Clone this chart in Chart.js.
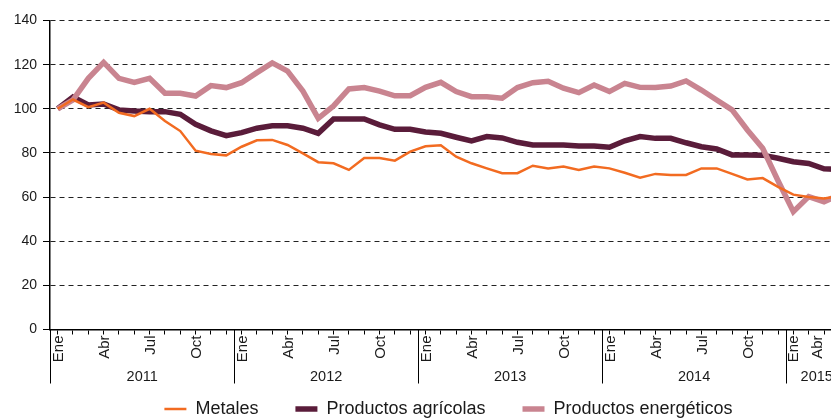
<!DOCTYPE html>
<html>
<head>
<meta charset="utf-8">
<script src="https://cdn.jsdelivr.net/npm/chart.js@4.4.1/dist/chart.umd.min.js"></script>
<style>
  html, body { margin: 0; padding: 0; overflow: hidden; background: #fff; }
  canvas { display: block; }
</style>
</head>
<body>
<canvas id="chart" width="900" height="428"></canvas>
<script>
// Indices de precios de materias primas (Ene 2011 = 100)
const years = ['2011', '2012', '2013', '2014', '2015'];
const monthNames = ['Ene', 'Feb', 'Mar', 'Abr', 'May', 'Jun', 'Jul', 'Ago', 'Sep', 'Oct', 'Nov', 'Dic'];
const shownMonths = ['Ene', 'Abr', 'Jul', 'Oct'];

const metales = [
    100, 104.2, 100.7, 102.8, 98.2, 96.7, 100, 94.5, 89.9, 81, 79.5, 78.9,
    82.8, 85.7, 85.9, 83.6, 79.8, 75.8, 75.3, 72.3, 77.7, 77.7, 76.5, 80.6,
    83, 83.5, 78.3, 75.3, 73, 70.8, 70.8, 74.2, 73, 73.8, 72.3, 73.8,
    73, 71, 68.8, 70.5, 70, 70, 73, 73, 70.5, 68, 68.6, 64.6,
    61.1, 60, 59.4, 60.5
];
const agricolas = [
    100, 105.3, 101.7, 102.2, 99.5, 99, 98.7, 98.7, 97.5, 93, 90, 87.8,
    89.2, 91.2, 92.3, 92.3, 91.2, 88.9, 95.4, 95.4, 95.4, 92.7, 90.7, 90.7,
    89.5, 88.9, 87.1, 85.4, 87.4, 86.8, 84.8, 83.6, 83.6, 83.6, 83.1, 83.1,
    82.6, 85.5, 87.4, 86.6, 86.6, 84.6, 82.8, 81.8, 79.1, 79.1, 79, 77.6,
    76, 75.2, 72.8, 72.5
];
const energeticos = [
    100, 104, 113.8, 121, 113.8, 112, 113.8, 107, 107, 105.8, 110.5, 109.6,
    111.8, 116.4, 120.8, 117.1, 108, 95.7, 101.3, 109, 109.6, 108, 105.9, 105.9,
    109.7, 112, 107.8, 105.5, 105.5, 104.8, 109.6, 111.8, 112.5, 109.3, 107.3, 110.8,
    107.8, 111.5, 109.7, 109.6, 110.3, 112.6, 108.5, 104, 99.5, 90.4, 82.1, 67.4,
    53.4, 60.2, 57.9, 61
];

const labels = years.flatMap(y => monthNames.map(m => m + ' ' + y)).slice(0, metales.length);

const FONT = '"Liberation Sans", Arial, sans-serif';

// draws the two-level category axis: month names, year separators and years
const yearAxis = {
    id: 'yearAxis',
    afterDraw: function (chart) {
        const ctx = chart.ctx;
        const x = chart.scales.x;
        const bottom = chart.chartArea.bottom;
        const half = (x.getPixelForValue(1) - x.getPixelForValue(0)) / 2;
        const last = labels.length - 1;

        ctx.save();
        ctx.strokeStyle = '#000';
        ctx.lineWidth = 1;
        ctx.fillStyle = '#1a1a1a';

        ctx.font = '14.5px ' + FONT;
        years.forEach(function (yr, k) {
            const first = k * 12;
            if (first > last) return;
            const start = Math.round(x.getPixelForValue(first) - half) + 0.5;
            const end = x.getPixelForValue(Math.min(first + 11, last)) + half;
            ctx.beginPath();
            ctx.moveTo(start, bottom);
            ctx.lineTo(start, bottom + 54);
            ctx.stroke();
            ctx.textAlign = 'center';
            ctx.textBaseline = 'middle';
            ctx.fillText(yr, (start + end) / 2, bottom + 47);
        });

        ctx.font = '15px ' + FONT;
        labels.forEach(function (lab, i) {
            const m = lab.split(' ')[0];
            if (shownMonths.indexOf(m) < 0) return;
            // keep the last month name inside the visible picture
            const px = Math.min(x.getPixelForValue(i) + 1, 818);
            ctx.save();
            ctx.translate(px, bottom + 6);
            ctx.rotate(-Math.PI / 2);
            ctx.textAlign = 'right';
            ctx.textBaseline = 'middle';
            ctx.fillText(m, 0, 0);
            ctx.restore();
        });
        ctx.restore();
    }
};

new Chart(document.getElementById('chart').getContext('2d'), {
    type: 'line',
    data: {
        labels: labels,
        datasets: [
            { label: 'Metales', data: metales, borderColor: '#f26b21', backgroundColor: '#f26b21', borderWidth: 2.5, order: 0 },
            { label: 'Productos agrícolas', data: agricolas, borderColor: '#5a1c3a', backgroundColor: '#5a1c3a', borderWidth: 5.5, order: 2 },
            { label: 'Productos energéticos', data: energeticos, borderColor: '#c98490', backgroundColor: '#c98490', borderWidth: 5.5, order: 1 }
        ]
    },
    options: {
        responsive: false,
        animation: false,
        devicePixelRatio: 1,
        layout: { padding: { top: 20.5, right: 53, left: 0, bottom: 0 } },
        elements: {
            point: { radius: 0 },
            line: { tension: 0, borderJoinStyle: 'miter', borderCapStyle: 'butt' }
        },
        plugins: {
            tooltip: { enabled: false },
            legend: {
                position: 'bottom',
                fullSize: false,
                labels: {
                    color: '#1a1a1a',
                    font: { family: FONT, size: 18 },
                    usePointStyle: true,
                    pointStyle: 'line',
                    pointStyleWidth: 22,
                    padding: 37,
                    sort: function (a, b) { return a.datasetIndex - b.datasetIndex; }
                }
            }
        },
        scales: {
            x: {
                offset: true,
                afterFit: function (s) { s.height = 33.5; },
                ticks: { display: false, autoSkip: false },
                grid: { drawOnChartArea: false, drawTicks: true, tickLength: 5, color: '#000', lineWidth: 1 },
                border: { display: true, color: '#000', width: 1.5 }
            },
            y: {
                min: 0,
                max: 140,
                afterFit: function (s) { s.width = 50; },
                ticks: { stepSize: 20, color: '#1a1a1a', font: { family: FONT, size: 14 }, padding: 6 },
                grid: { color: '#222', lineWidth: 1, tickLength: 7, tickColor: '#000', tickWidth: 1 },
                border: { display: true, color: '#000', width: 1.5, dash: [5, 4] }
            }
        }
    },
    plugins: [yearAxis]
});
</script>
</body>
</html>
